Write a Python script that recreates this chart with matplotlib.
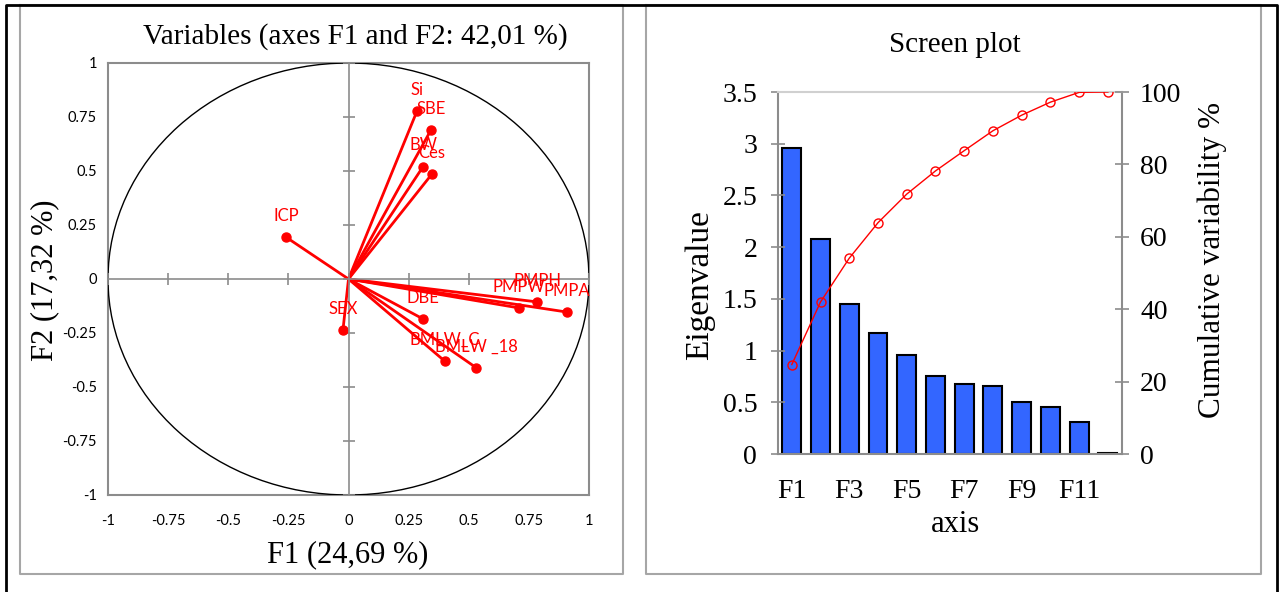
import matplotlib.pyplot as plt
import matplotlib.patches as mpatches
from matplotlib.lines import Line2D
import numpy as np

# correlation circle (F1, F2 loadings)
var_names = ['Si', 'SBE', 'BW', 'Ces', 'ICP', 'PMPH', 'PMPW', 'PMPA',
             'DBE', 'SEX', 'BMLW_C', 'BMLW _18']
f1_load = [0.285, 0.343, 0.31, 0.347, -0.26, 0.784, 0.709, 0.908,
           0.31, -0.023, 0.40, 0.53]
f2_load = [0.778, 0.69, 0.52, 0.486, 0.194, -0.106, -0.134, -0.153,
           -0.185, -0.236, -0.38, -0.41]

# scree plot
axis_names = ['F%d' % i for i in range(1, 13)]
eigenvalues = [2.96, 2.076, 1.45, 1.167, 0.957, 0.757, 0.677, 0.658,
               0.503, 0.457, 0.312, 0.005]
cum_var = [24.7, 42.0, 54.1, 63.9, 71.8, 78.2, 83.8, 89.3,
           93.6, 97.2, 99.9, 100.0]

W, H = 1280, 592
fig = plt.figure(figsize=(12.8, 5.92), dpi=100)

def px_rect(x0, y0, x1, y1):
    # pixel box (top-left origin) -> figure fraction [l, b, w, h]
    return [x0 / W, (H - y1) / H, (x1 - x0) / W, (y1 - y0) / H]

def fig_line(xs, ys, color, lw):
    fig.add_artist(Line2D([x / W for x in xs], [(H - y) / H for y in ys],
                          color=color, lw=lw, transform=fig.transFigure))

# frames around the two panels
fig_line([20, 20, 623, 623, 20], [5, 574, 574, 5, 5], '#a6a6a6', 1.5)
fig_line([646, 646, 1261, 1261, 646], [5, 574, 574, 5, 5], '#a6a6a6', 1.5)
fig_line([6, 6, 1277, 1277], [600, 5, 5, 600], 'black', 2.0)

serif = 'Liberation Serif'
sans = 'Lato'
gray = '#8c8c8c'

# ---------------- left: correlation circle ----------------
ax = fig.add_axes(px_rect(108, 63, 589, 495))
ax.set_xlim(-1, 1)
ax.set_ylim(-1, 1)
for s in ax.spines.values():
    s.set_color(gray)
    s.set_linewidth(1.5)
ticks = np.arange(-1, 1.01, 0.25)
lbls = ['%g' % t for t in ticks]
ax.set_xticks(ticks)
ax.set_xticklabels(lbls, fontfamily=sans, fontsize=10.5)
ax.set_yticks(ticks)
ax.set_yticklabels(lbls, fontfamily=sans, fontsize=10.5)
ax.tick_params(axis='x', length=0, pad=14)
ax.tick_params(axis='y', length=0, pad=8)

# centre axes with crossing ticks
axc = fig.add_axes(ax.get_position(), frameon=True)
axc.patch.set_alpha(0)
axc.set_xlim(-1, 1)
axc.set_ylim(-1, 1)
axc.spines['left'].set_position('zero')
axc.spines['bottom'].set_position('zero')
axc.spines['top'].set_visible(False)
axc.spines['right'].set_visible(False)
for k in ['left', 'bottom']:
    axc.spines[k].set_color(gray)
    axc.spines[k].set_linewidth(1.2)
axc.set_xticks(ticks)
axc.set_yticks(ticks)
axc.tick_params(direction='inout', length=9, width=1.2, color=gray,
                labelleft=False, labelbottom=False)

circle = mpatches.Circle((0, 0), 1, fill=False, ec='black', lw=1)
axc.add_patch(circle)
for name, x, y in zip(var_names, f1_load, f2_load):
    axc.plot([0, x], [0, y], color='red', lw=2, solid_capstyle='round')
    axc.plot(x, y, 'o', color='red', ms=6.5)
    axc.annotate(name, (x, y), xytext=(0, 9.5), textcoords='offset points',
                 ha='center', va='bottom', color='red',
                 fontfamily=sans, fontsize=12)

fig.text(355 / W, 1 - 37 / H, 'Variables (axes F1 and F2: 42,01 %)',
         ha='center', va='center', fontfamily=serif, fontsize=21)
fig.text(45 / W, 1 - 280 / H, 'F2 (17,32 %)', rotation=90,
         ha='center', va='center', fontfamily=serif, fontsize=22)
fig.text(348 / W, 1 - 555 / H, 'F1 (24,69 %)',
         ha='center', va='center', fontfamily=serif, fontsize=22)

# ---------------- right: scree plot ----------------
bx = fig.add_axes(px_rect(778, 92, 1122, 454))
xpos = np.arange(len(axis_names))
bx.bar(xpos, eigenvalues, width=0.66, color='#3366ff', edgecolor='black',
       linewidth=1.5)
bx.set_xlim(-0.48, 11.49)
bx.set_ylim(0, 3.5)
bx.set_yticks(np.arange(0, 3.51, 0.5))
bx.set_yticklabels(['%g' % t for t in np.arange(0, 3.51, 0.5)],
                   fontfamily=serif, fontsize=20)
bx.set_xticks(xpos[::2])
bx.set_xticklabels(axis_names[::2], fontfamily=serif, fontsize=20)
bx.tick_params(axis='x', length=0, pad=18)
bx.tick_params(axis='y', direction='inout', length=10, width=1.2, color=gray,
               pad=10)
for k in ['left', 'right', 'bottom']:
    bx.spines[k].set_color(gray)
    bx.spines[k].set_linewidth(1.5)
bx.spines['top'].set_color('#d0d0d0')
bx.spines['top'].set_linewidth(1.5)

bx2 = bx.twinx()
bx2.plot(xpos, cum_var, '-o', color='red', lw=1, ms=6.5, mfc='none',
         mec='red', mew=1)
bx2.set_ylim(0, 100)
bx2.set_yticks(np.arange(0, 101, 20))
bx2.set_yticklabels([str(t) for t in range(0, 101, 20)],
                    fontfamily=serif, fontsize=20)
bx2.tick_params(axis='y', direction='inout', length=10, width=1.2,
                color=gray, pad=8)
for s in bx2.spines.values():
    s.set_visible(False)

fig.text(955 / W, 1 - 45 / H, 'Screen plot', ha='center', va='center',
         fontfamily=serif, fontsize=21)
fig.text(700 / W, 1 - 285 / H, 'Eigenvalue', rotation=90, ha='center',
         va='center', fontfamily=serif, fontsize=24)
fig.text(1212 / W, 1 - 260 / H, 'Cumulative variability %', rotation=90,
         ha='center', va='center', fontfamily=serif, fontsize=22.5)
fig.text(955 / W, 1 - 525 / H, 'axis', ha='center', va='center',
         fontfamily=serif, fontsize=22)

fig.savefig('out.png', dpi=100)
